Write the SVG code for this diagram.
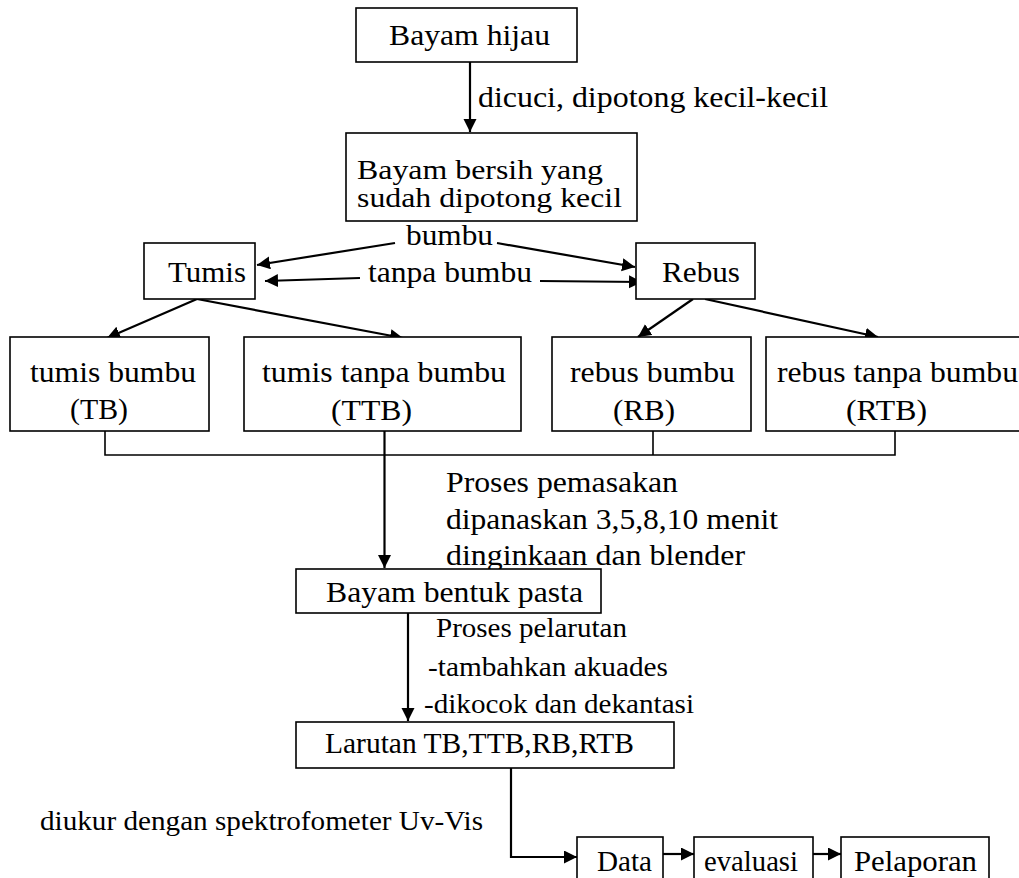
<svg xmlns="http://www.w3.org/2000/svg" width="1019" height="878" viewBox="0 0 1019 878">
<defs>
<style>
.box{fill:#fff;stroke:#000;stroke-width:1.6}
.ln{fill:none;stroke:#000;stroke-width:2.2}
.thin{fill:none;stroke:#000;stroke-width:1.6}
.t{font-size:30px;fill:#000}
.sm{font-size:27px}
.two{font-size:28px}
</style>
<marker id="ah" markerUnits="userSpaceOnUse" markerWidth="14" markerHeight="14" refX="13" refY="6.5" orient="auto">
<path d="M0,0 L13,6.5 L0,13 z" fill="#000"/>
</marker>
</defs>
<rect width="1019" height="878" fill="#fff"/>

<g id="connectors">
<line class="ln" x1="470" y1="62" x2="470" y2="132" marker-end="url(#ah)"/>
<line class="ln" x1="395" y1="243" x2="257" y2="265" marker-end="url(#ah)"/>
<line class="ln" x1="497" y1="243" x2="635" y2="267" marker-end="url(#ah)"/>
<line class="ln" x1="360" y1="278" x2="265" y2="281" marker-end="url(#ah)"/>
<line class="ln" x1="540" y1="281" x2="642" y2="282" marker-end="url(#ah)"/>
<line class="ln" x1="197" y1="299" x2="107" y2="338" marker-end="url(#ah)"/>
<line class="ln" x1="197" y1="299" x2="403" y2="338" marker-end="url(#ah)"/>
<line class="ln" x1="693" y1="299" x2="638" y2="337" marker-end="url(#ah)"/>
<line class="ln" x1="705" y1="299" x2="878" y2="337" marker-end="url(#ah)"/>
<polyline class="thin" points="105,431 105,455 895,455 895,431"/>
<line class="thin" x1="653" y1="431" x2="653" y2="455"/>
<line class="ln" x1="384.5" y1="431" x2="384.5" y2="568" marker-end="url(#ah)"/>
<line class="ln" x1="408" y1="613" x2="408" y2="721" marker-end="url(#ah)"/>
<polyline class="ln" points="511,768 511,857 577,857" marker-end="url(#ah)"/>
<line class="ln" x1="663" y1="854" x2="694" y2="854" marker-end="url(#ah)"/>
<line class="ln" x1="813" y1="854" x2="841" y2="854" marker-end="url(#ah)"/>
</g>

<g font-family="'Liberation Serif', 'Times New Roman', serif">
<g id="labels">
<text class="t" x="478" y="107" textLength="350" lengthAdjust="spacingAndGlyphs">dicuci, dipotong kecil-kecil</text>
<text class="t" x="406" y="245" textLength="87" lengthAdjust="spacingAndGlyphs">bumbu</text>
<text class="t" x="368" y="282" textLength="164" lengthAdjust="spacingAndGlyphs">tanpa bumbu</text>
<text class="t" x="446" y="492" textLength="232" lengthAdjust="spacingAndGlyphs">Proses pemasakan</text>
<text class="t" x="446" y="529" textLength="332" lengthAdjust="spacingAndGlyphs">dipanaskan 3,5,8,10 menit</text>
<text class="t" x="446" y="565" textLength="299" lengthAdjust="spacingAndGlyphs">dinginkaan dan blender</text>
<text class="t sm" x="436" y="637" textLength="191" lengthAdjust="spacingAndGlyphs">Proses pelarutan</text>
<text class="t sm" x="428" y="676" textLength="240" lengthAdjust="spacingAndGlyphs">-tambahkan akuades</text>
<text class="t sm" x="424" y="713" textLength="270" lengthAdjust="spacingAndGlyphs">-dikocok dan dekantasi</text>
<text class="t sm" x="40" y="830" textLength="443" lengthAdjust="spacingAndGlyphs">diukur dengan spektrofometer Uv-Vis</text>
</g>

<g id="bayam-hijau">
<rect class="box" x="356" y="8" width="221" height="54"/>
<text class="t" x="389" y="45" textLength="161" lengthAdjust="spacingAndGlyphs">Bayam hijau</text>
</g>
<g id="bayam-bersih">
<rect class="box" x="346" y="133" width="291" height="88"/>
<text class="t two" x="357" y="179" textLength="246" lengthAdjust="spacingAndGlyphs">Bayam bersih yang</text>
<text class="t two" x="357" y="207" textLength="265" lengthAdjust="spacingAndGlyphs">sudah dipotong kecil</text>
</g>
<g id="tumis">
<rect class="box" x="144" y="243" width="111" height="56"/>
<text class="t" x="168" y="282" textLength="78" lengthAdjust="spacingAndGlyphs">Tumis</text>
</g>
<g id="rebus">
<rect class="box" x="636" y="243" width="119" height="56"/>
<text class="t" x="662" y="282" textLength="78" lengthAdjust="spacingAndGlyphs">Rebus</text>
</g>
<g id="tb">
<rect class="box" x="10" y="337" width="199" height="94"/>
<text class="t" x="30" y="382" textLength="166" lengthAdjust="spacingAndGlyphs">tumis bumbu</text>
<text class="t" x="70" y="419" textLength="58" lengthAdjust="spacingAndGlyphs">(TB)</text>
</g>
<g id="ttb">
<rect class="box" x="244" y="337" width="277" height="94"/>
<text class="t" x="262" y="382" textLength="244" lengthAdjust="spacingAndGlyphs">tumis tanpa bumbu</text>
<text class="t" x="331" y="420" textLength="81" lengthAdjust="spacingAndGlyphs">(TTB)</text>
</g>
<g id="rb">
<rect class="box" x="552" y="337" width="199" height="94"/>
<text class="t" x="570" y="382" textLength="165" lengthAdjust="spacingAndGlyphs">rebus bumbu</text>
<text class="t" x="613" y="420" textLength="62" lengthAdjust="spacingAndGlyphs">(RB)</text>
</g>
<g id="rtb">
<rect class="box" x="766" y="337" width="262" height="94"/>
<text class="t" x="777" y="382" textLength="241" lengthAdjust="spacingAndGlyphs">rebus tanpa bumbu</text>
<text class="t" x="846" y="420" textLength="81" lengthAdjust="spacingAndGlyphs">(RTB)</text>
</g>
<g id="bayam-pasta">
<rect class="box" x="296" y="569" width="305" height="44"/>
<text class="t" x="326" y="602" textLength="257" lengthAdjust="spacingAndGlyphs">Bayam bentuk pasta</text>
</g>
<g id="larutan">
<rect class="box" x="296" y="722" width="378" height="46"/>
<text class="t" x="325" y="753" textLength="309" lengthAdjust="spacingAndGlyphs">Larutan TB,TTB,RB,RTB</text>
</g>
<g id="data">
<rect class="box" x="577" y="837" width="86" height="50"/>
<text class="t" x="597" y="871" textLength="55" lengthAdjust="spacingAndGlyphs">Data</text>
</g>
<g id="evaluasi">
<rect class="box" x="694" y="837" width="119" height="50"/>
<text class="t" x="704" y="871" textLength="94" lengthAdjust="spacingAndGlyphs">evaluasi</text>
</g>
<g id="pelaporan">
<rect class="box" x="841" y="837" width="148" height="50"/>
<text class="t" x="854" y="871" textLength="123" lengthAdjust="spacingAndGlyphs">Pelaporan</text>
</g>
</g>
</svg>
